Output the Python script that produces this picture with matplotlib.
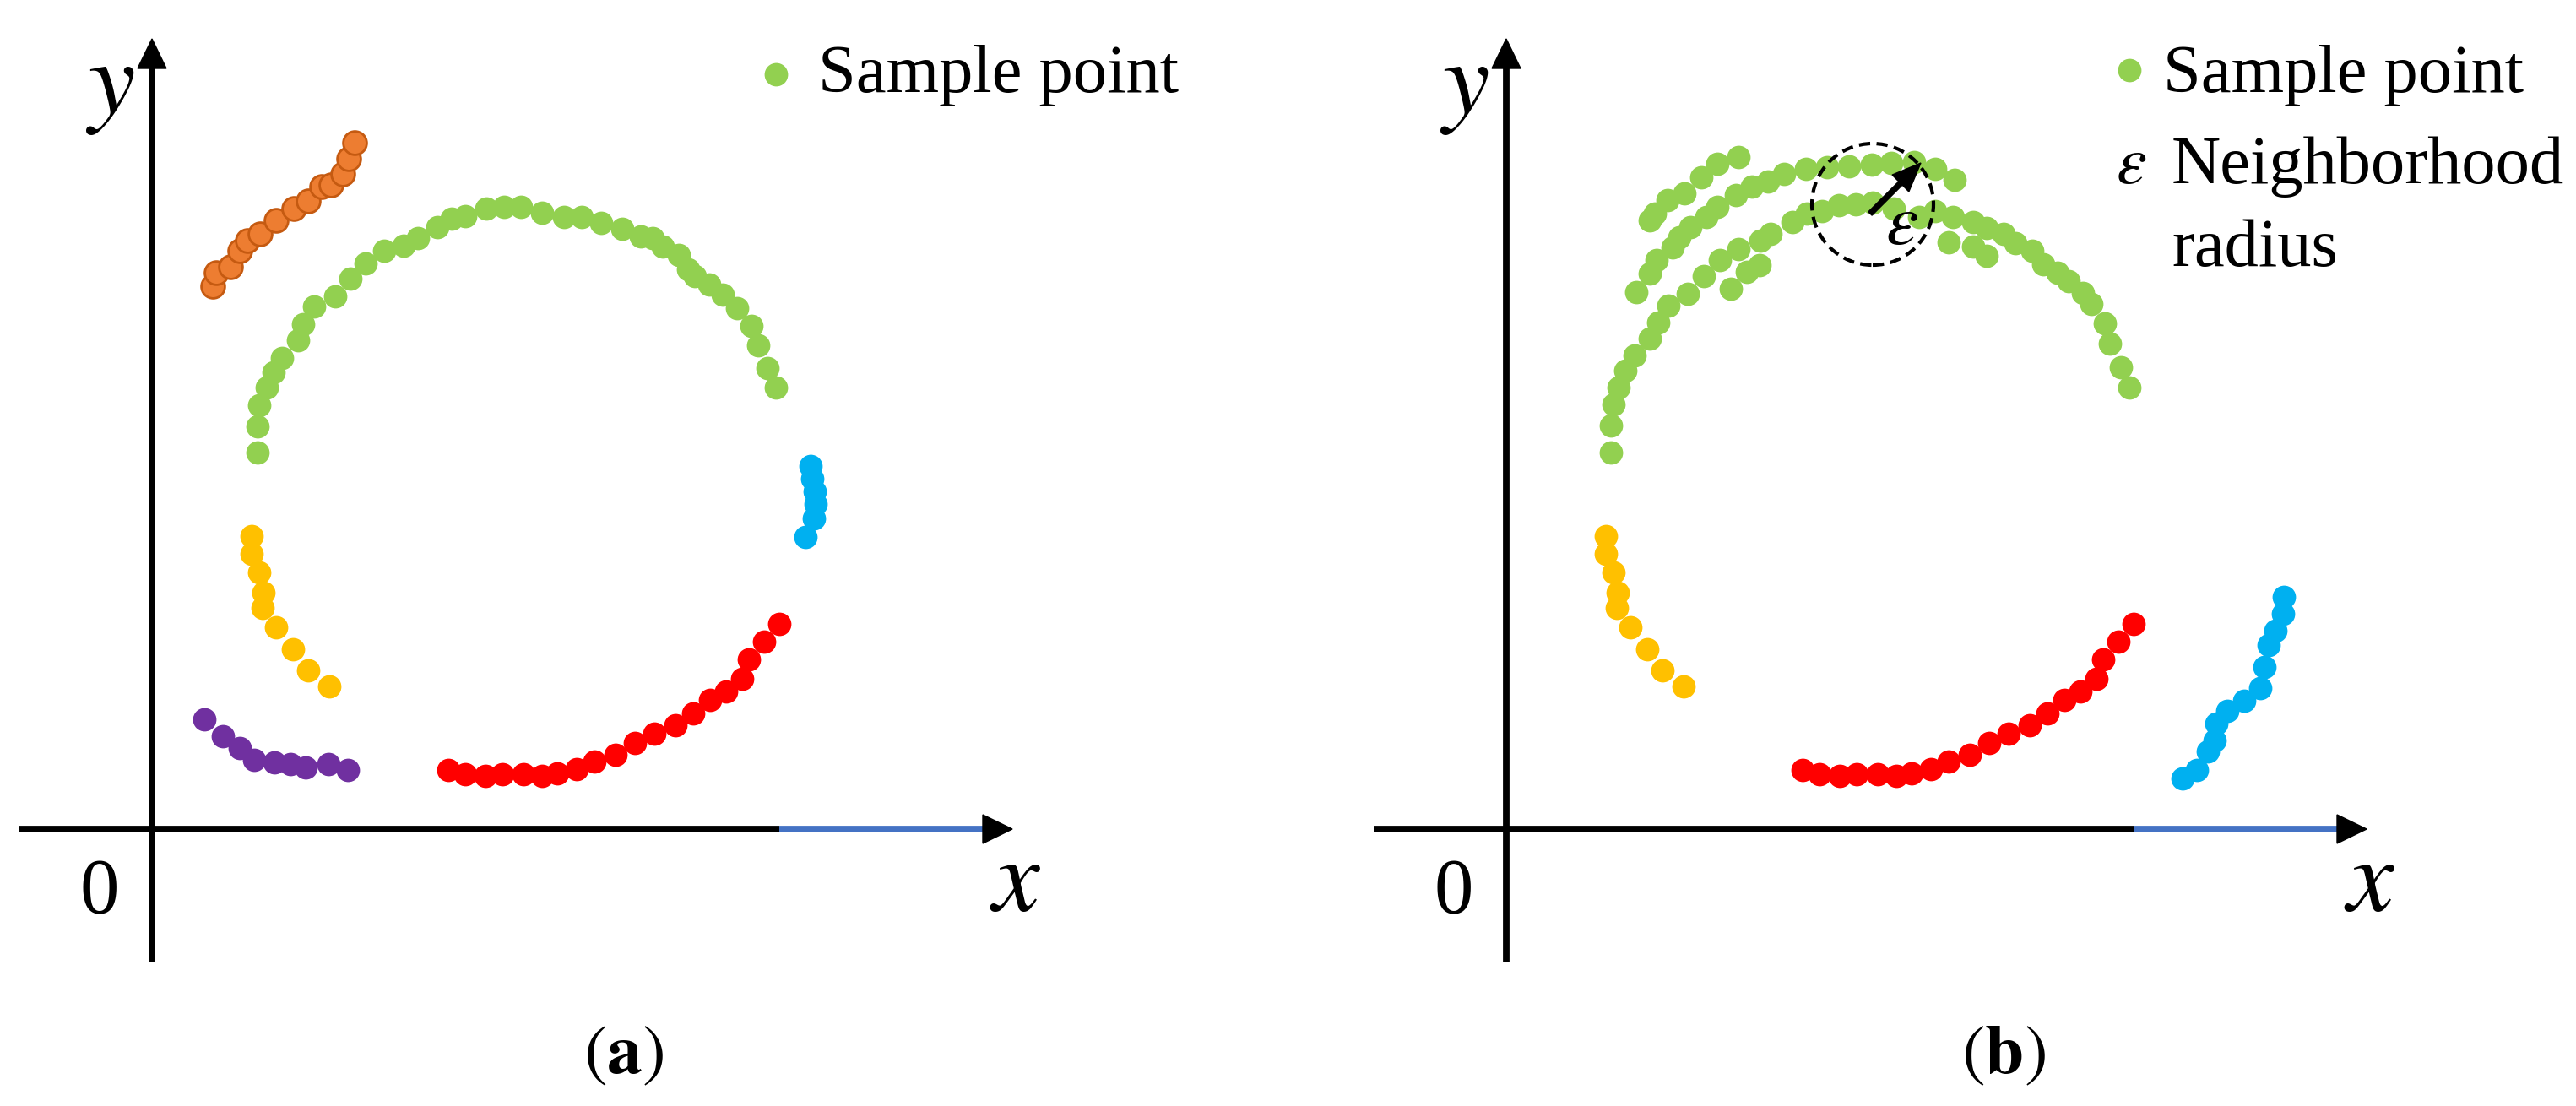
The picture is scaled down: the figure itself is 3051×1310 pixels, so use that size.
import matplotlib
matplotlib.use("Agg")
import matplotlib.pyplot as plt
from matplotlib.patches import Circle, Polygon

plt.rcParams["mathtext.fontset"] = "stix"

# point clouds, in px relative to the axis origin of each panel
green_a = [(125, 446), (125, 477), (127, 502), (136, 523), (144, 541), (154, 558), (173, 579),
           (179, 598), (192, 619), (217, 631), (235, 652), (253, 670), (275, 685), (298, 691),
           (315, 700), (338, 713), (355, 723), (371, 726), (396, 735), (417, 737), (437, 737),
           (462, 730), (488, 725), (509, 725), (532, 718), (557, 711), (579, 702), (593, 700),
           (605, 690), (624, 680), (635, 663), (643, 655), (660, 645), (676, 633), (693, 617),
           (710, 596), (718, 573), (729, 546), (739, 523)]
orange_a = [(72, 643), (76, 659), (93, 666), (104, 685), (113, 697), (128, 705), (147, 721),
            (168, 735), (185, 744), (201, 761), (212, 763), (226, 776), (233, 794), (240, 813)]
blue_a = [(780, 430), (782, 415), (785, 400), (786, 385), (784, 368), (774, 346)]
purple_a = [(62, 130), (84, 110), (104, 96), (121, 82), (145, 79), (164, 77), (182, 73),
            (209, 77), (232, 70)]
yellow = [(118, 347), (118, 326), (127, 304), (132, 280), (131, 262), (147, 239), (167, 213),
          (185, 188), (210, 169)]
red = [(351, 70), (371, 65), (395, 63), (415, 65), (440, 65), (462, 63), (480, 66), (503, 71),
       (524, 80), (549, 88), (572, 102), (595, 113), (620, 123), (641, 137), (661, 153),
       (680, 163), (699, 178), (707, 201), (725, 222), (743, 243)]

green_b_top = [(170, 721), (176, 729), (191, 745), (211, 753), (231, 772), (250, 788), (275, 796)]
green_b_mid = [(154, 636), (170, 658), (178, 674), (197, 689), (205, 701), (218, 713), (237, 725),
               (250, 737), (272, 751), (291, 761), (310, 767), (329, 776), (355, 782), (380, 784),
               (406, 785), (433, 787), (456, 789), (483, 790), (508, 782), (531, 769)]
green_b_low = [(124, 446), (124, 478), (127, 503), (133, 523), (141, 543), (152, 561), (170, 581),
               (180, 600), (192, 620), (215, 634), (234, 655), (253, 674), (275, 687), (301, 697),
               (313, 705), (339, 719), (356, 729), (374, 732), (394, 739), (414, 740), (434, 742),
               (459, 735), (489, 725), (508, 732), (529, 725), (553, 719), (569, 712), (589, 705),
               (603, 694), (623, 685), (636, 669), (653, 659), (666, 649), (683, 635), (693, 622),
               (709, 599), (715, 575), (728, 547), (738, 523)]
green_b_extra = [(266, 640), (285, 660), (300, 668), (524, 695), (553, 690), (569, 679)]
blue_b = [(921, 275), (920, 255), (911, 235), (903, 218), (898, 192), (893, 167), (874, 152),
          (854, 140), (841, 125), (839, 105), (831, 92), (818, 70), (801, 60)]

# neighbourhood circle in panel b: centre, radius, arrow end
eps_center = (434, 740)
eps_radius = 72
eps_arrow_end = (491, 789)

GREEN, RED, YELLOW = "#92D050", "#FF0000", "#FFC000"
BLUE, PURPLE = "#00B0F0", "#7030A0"
ORANGE, ORANGE_EDGE = "#ED7D31", "#C55A11"
AXIS_BLUE = "#4472C4"
SERIF = "Liberation Serif"
PT = 400  # marker area


def dots(ax, pts, color, **kw):
    xs = [p[0] for p in pts]
    ys = [p[1] for p in pts]
    ax.scatter(xs, ys, s=PT, c=color, linewidths=kw.pop("lw", 0), zorder=3, **kw)


def draw_frame(ax, label):
    lw = 5.6
    # x axis: black part then blue part, black head
    ax.plot([-157, 743], [0, 0], color="black", lw=lw, solid_capstyle="butt", zorder=2)
    ax.plot([743, 990], [0, 0], color=AXIS_BLUE, lw=lw, solid_capstyle="butt", zorder=2)
    ax.add_patch(Polygon([(1019, 0), (984, 17), (984, -17)], closed=True, color="black", zorder=2))
    # y axis
    ax.plot([0, 0], [-158, 910], color="black", lw=lw, solid_capstyle="butt", zorder=2)
    ax.add_patch(Polygon([(0, 936), (-17, 901), (17, 901)], closed=True, color="black", zorder=2))

    ax.text(-50, 880, "$y$", fontsize=90, ha="center", va="center")
    ax.text(1023, -63, "$x$", fontsize=90, ha="center", va="center")
    ax.text(-62, -77, "0", fontsize=67, family=SERIF, ha="center", va="center")
    ax.text(label[1], -266, label[0], fontsize=60, ha="center", va="center")


fig = plt.figure(figsize=(30.51, 13.10), dpi=100)
ax_a = fig.add_axes([0, 0, 1525 / 3051, 1])
ax_b = fig.add_axes([1525 / 3051, 0, 1526 / 3051, 1])
ax_a.set_xlim(-180, 1345)
ax_b.set_xlim(-259, 1267)
for ax in (ax_a, ax_b):
    ax.set_ylim(-328, 982)
    ax.axis("off")

# ---- panel (a) ----
draw_frame(ax_a, (r"$(\mathbf{a})$", 559))
dots(ax_a, green_a, GREEN)
dots(ax_a, orange_a, ORANGE, edgecolors=ORANGE_EDGE, lw=2.0)
dots(ax_a, blue_a, BLUE)
dots(ax_a, yellow, YELLOW)
dots(ax_a, purple_a, PURPLE)
dots(ax_a, red, RED)
dots(ax_a, [(739, 894)], GREEN)
ax_a.text(789, 873, "Sample point", fontsize=58, family=SERIF, va="baseline")

# ---- panel (b) ----
draw_frame(ax_b, (r"$(\mathbf{b})$", 589))
for band in (green_b_top, green_b_mid, green_b_low, green_b_extra):
    dots(ax_b, band, GREEN)
dots(ax_b, yellow, YELLOW)
dots(ax_b, red, RED)
dots(ax_b, blue_b, BLUE)

ax_b.add_patch(Circle(eps_center, eps_radius, fill=False, color="black", lw=3.0,
                      linestyle=(0, (3.2, 1.8)), zorder=4))
ax_b.arrow(eps_center[0] - 3, eps_center[1] - 11,
           eps_arrow_end[0] - eps_center[0] + 3, eps_arrow_end[1] - eps_center[1] + 11,
           width=6, head_width=28, head_length=34, length_includes_head=True,
           color="black", zorder=5)
ax_b.text(468, 717, r"$\varepsilon$", fontsize=62, ha="center", va="center", zorder=5)

dots(ax_b, [(738, 899)], GREEN)
ax_b.text(778, 873, "Sample point", fontsize=58, family=SERIF, va="baseline")
ax_b.text(722, 765, r"$\varepsilon$", fontsize=58, va="baseline")
ax_b.text(788, 765, "Neighborhood", fontsize=58, family=SERIF, va="baseline")
ax_b.text(788, 667, "radius", fontsize=58, family=SERIF, va="baseline")

fig.savefig("out.png", dpi=100, facecolor="white")
plt.close(fig)
